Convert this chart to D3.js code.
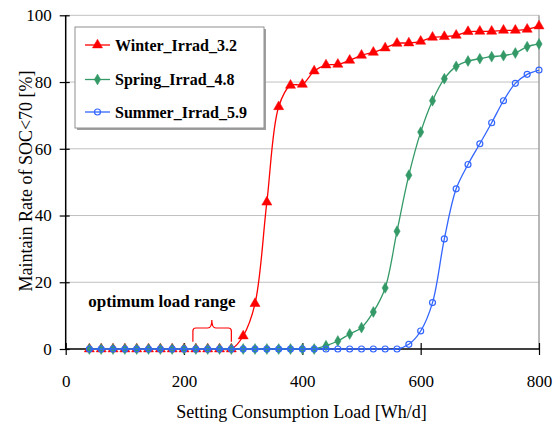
<!DOCTYPE html>
<html>
<head>
    <meta charset="utf-8">
    <title>Maintain Rate of SOC</title>
    <script src="https://d3js.org/d3.v7.min.js"></script>
    <style>
        body {
            margin: 0;
            background-color: #ffffff;
        }
        svg text {
            font-family: "Liberation Serif", Tinos, "Times New Roman", Times, "DejaVu Serif", serif !important;
        }
    </style>
</head>
<body>
    <script>
        var width = 553;
        var height = 425;
        var margin = {top: 15.3, right: 14, bottom: 76, left: 65.7};

        // load values [Wh/d]
        const loads = [40, 60, 80, 100, 120, 140, 160, 180, 200, 220, 240, 260, 280,
            300, 320, 340, 360, 380, 400, 420, 440, 460, 480, 500, 520, 540, 560,
            580, 600, 620, 640, 660, 680, 700, 720, 740, 760, 780, 800];

        const winter = [0, 0, 0, 0, 0, 0, 0, 0, 0, 0, 0, 0, 0,
            3.9, 13.6, 44, 72.6, 79, 79.3, 83.3, 85.1, 85.3, 86.5, 88, 88.9, 90.2, 91.6,
            91.7, 92.2, 93.4, 93.6, 94, 95.1, 95.2, 95.2, 95.5, 95.5, 95.8, 96.8];

        const spring = [0, 0, 0, 0, 0, 0, 0, 0, 0, 0, 0, 0, 0,
            0, 0, 0, 0, 0, 0, 0, 1.0, 2.4, 4.5, 6.4, 11.1, 18.3, 35.3,
            52.1, 65, 74.4, 81, 84.7, 86.3, 87, 87.6, 87.9, 88.7, 90.6, 91.4];

        const summer = [0, 0, 0, 0, 0, 0, 0, 0, 0, 0, 0, 0, 0,
            0, 0, 0, 0, 0, 0, 0, 0, 0, 0, 0, 0, 0, 0,
            1.4, 5.4, 13.9, 33, 48, 55.3, 61.5, 67.8, 74.4, 79.6, 82.3, 83.6];

        const seriesNames = ["Winter_Irrad_3.2", "Spring_Irrad_4.8", "Summer_Irrad_5.9"];
        const xTicks = [0, 200, 400, 600, 800];
        const yTicks = [0, 20, 40, 60, 80, 100];

        const colors = ["#ff0000", "#339966", "#3366ff"];
        const symbols = [d3.symbolTriangle, d3.symbolDiamond, d3.symbolCircle];
        const symSizes = [44, 34, 28];

        var series = [winter, spring, summer].map(function (vals, i) {
            return {
                name: seriesNames[i],
                color: colors[i],
                values: loads.map(function (x, j) { return {x: x, y: vals[j]}; })
            };
        });

        var svg = d3.select("body")
            .append("svg")
            .attr("width", width)
            .attr("height", height);

        var x = d3.scaleLinear().domain([0, 800]).range([margin.left, width - margin.right]);
        var y = d3.scaleLinear().domain([0, 100]).range([height - margin.bottom, margin.top]);

        // gridlines
        svg.append("g")
            .selectAll("line")
            .data(yTicks.filter(function (d) { return d > 0; }))
            .enter()
            .append("line")
            .attr("x1", x(0)).attr("x2", x(800))
            .attr("y1", function (d) { return y(d); })
            .attr("y2", function (d) { return y(d); })
            .attr("stroke", "#c0c0c0")
            .attr("stroke-width", 1);

        // right border
        svg.append("line")
            .attr("x1", x(800)).attr("x2", x(800))
            .attr("y1", y(100)).attr("y2", y(0))
            .attr("stroke", "#a0a0a0")
            .attr("stroke-width", 1.5);

        // axes
        var xAxis = svg.append("g")
            .attr("transform", "translate(0," + y(0) + ")")
            .call(d3.axisBottom(x).tickValues(xTicks).tickSize(6).tickPadding(20));
        xAxis.selectAll(".tick line").attr("y1", -6);
        xAxis.select(".domain").attr("d", "M" + x(0) + ",0H" + x(800));

        var yAxis = svg.append("g")
            .attr("transform", "translate(" + x(0) + ",0)")
            .call(d3.axisLeft(y).tickValues(yTicks).tickSize(6).tickPadding(8));
        yAxis.selectAll(".tick line").attr("x1", -6).attr("x2", 4);
        yAxis.select(".domain").attr("d", "M0," + y(0) + "V" + y(100));

        svg.selectAll(".domain").attr("stroke", "#000").attr("stroke-width", 1.5);
        svg.selectAll(".tick line").attr("stroke", "#000").attr("stroke-width", 1.2);
        svg.selectAll("g").attr("font-family", null);
        svg.selectAll(".tick text")
            .style("font-size", "17px")
            .attr("fill", "#000");

        // axis titles
        svg.append("text")
            .attr("x", 301.5)
            .attr("y", 418)
            .attr("text-anchor", "middle")
            .style("font-size", "18px")
            .text("Setting Consumption Load [Wh/d]");

        svg.append("text")
            .attr("transform", "translate(32," + 181 + ") rotate(-90)")
            .attr("text-anchor", "middle")
            .style("font-size", "18px")
            .text("Maintain Rate of SOC<70 [%]");

        // lines
        var line = d3.line()
            .x(function (d) { return x(d.x); })
            .y(function (d) { return y(d.y); })
            .curve(d3.curveCatmullRom.alpha(0.5));

        var g = svg.append("g");
        series.forEach(function (s, i) {
            g.append("path")
                .datum(s.values)
                .attr("d", line)
                .attr("fill", "none")
                .attr("stroke", s.color)
                .attr("stroke-width", 1.3);

            g.selectAll(".m" + i)
                .data(s.values)
                .enter()
                .append("path")
                .attr("class", "m" + i)
                .attr("transform", function (d) { return "translate(" + x(d.x) + "," + y(d.y) + ")"; })
                .attr("d", d3.symbol().type(symbols[i]).size(symSizes[i]))
                .attr("fill", i == 2 ? "none" : s.color)
                .attr("stroke", s.color)
                .attr("stroke-width", i == 2 ? 1.2 : 0.5);
        });

        // annotation
        svg.append("text")
            .attr("x", x(38))
            .attr("y", y(12.7))
            .style("font-size", "17px")
            .style("font-weight", "bold")
            .text("optimum load range");

        var bx0 = x(215), bx1 = x(280), bxm = x(247);
        var byBot = y(2.2), byTop = y(6.3), byPeak = y(8.7);
        svg.append("path")
            .attr("d", "M" + bx0 + "," + byBot +
                "V" + (byTop + 3) + "Q" + bx0 + "," + byTop + " " + (bx0 + 3) + "," + byTop +
                "H" + (bxm - 4) + "Q" + bxm + "," + byTop + " " + bxm + "," + byPeak +
                "Q" + bxm + "," + byTop + " " + (bxm + 4) + "," + byTop +
                "H" + (bx1 - 3) + "Q" + bx1 + "," + byTop + " " + bx1 + "," + (byTop + 3) +
                "V" + byBot)
            .attr("fill", "none")
            .attr("stroke", "#ff0000")
            .attr("stroke-width", 1.2);

        // legend
        var legend = svg.append("g");
        legend.append("rect")
            .attr("x", 77).attr("y", 29)
            .attr("width", 189).attr("height", 101)
            .attr("fill", "#a0a0a0");
        legend.append("rect")
            .attr("x", 75).attr("y", 27)
            .attr("width", 189).attr("height", 101)
            .attr("fill", "#fff")
            .attr("stroke", "#909090")
            .attr("stroke-width", 1);

        var rowY = [45, 79.5, 112];
        series.forEach(function (s, i) {
            legend.append("line")
                .attr("x1", 85).attr("x2", 110)
                .attr("y1", rowY[i]).attr("y2", rowY[i])
                .attr("stroke", s.color)
                .attr("stroke-width", 1.3);
            legend.append("path")
                .attr("transform", "translate(97.5," + rowY[i] + ")")
                .attr("d", d3.symbol().type(symbols[i]).size(symSizes[i]))
                .attr("fill", i == 2 ? "none" : s.color)
                .attr("stroke", s.color)
                .attr("stroke-width", i == 2 ? 1.2 : 0.5);
            legend.append("text")
                .attr("x", 115)
                .attr("y", rowY[i])
                .attr("dy", "0.35em")
                .style("font-size", "16px")
                .style("font-weight", "bold")
                .text(s.name);
        });
    </script>
</body>
</html>
